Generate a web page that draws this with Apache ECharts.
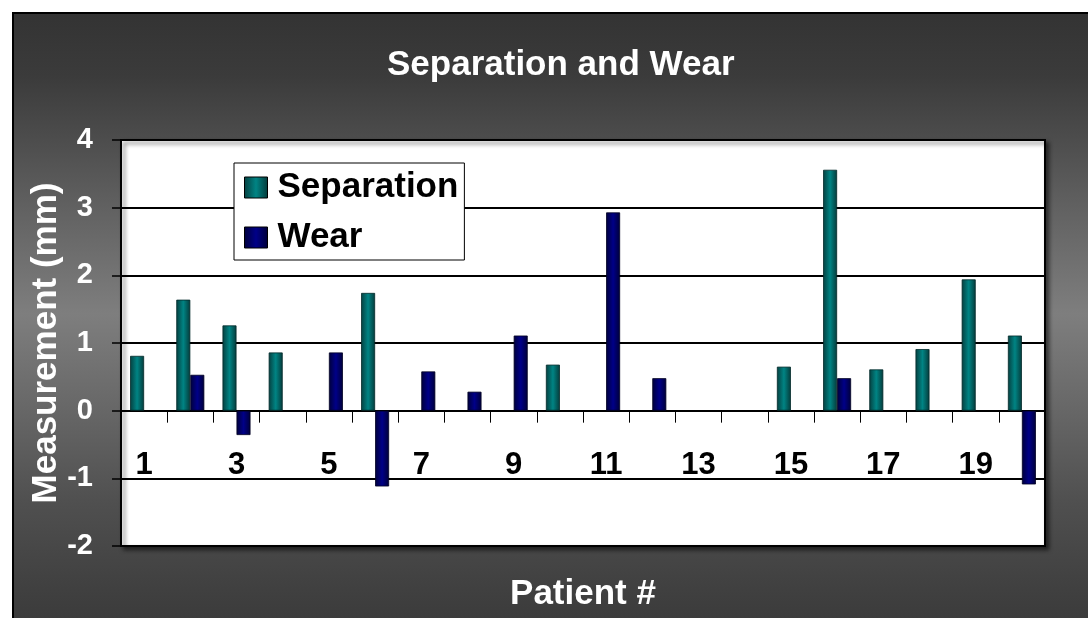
<!DOCTYPE html>
<html>
<head>
<meta charset="utf-8">
<script src="https://cdn.jsdelivr.net/npm/echarts@6/dist/echarts.min.js"></script>
<style>
html,body{margin:0;padding:0;background:#fff;}
#chart{width:1088px;height:618px;}
</style>
</head>
<body>
<div id="chart"></div>
<script>
const categories = ['1','2','3','4','5','6','7','8','9','10','11','12','13','14','15','16','17','18','19','20'];
const separation = [0.81,1.64,1.26,0.86,null,1.74,null,null,null,0.68,null,null,null,null,0.65,3.56,0.61,0.91,1.94,1.11];
const wear = [null,0.53,-0.36,null,0.86,-1.12,0.58,0.28,1.11,null,2.93,0.48,null,null,null,0.48,null,null,null,-1.09];
const yTicks = { min: -2, max: 4, interval: 1 };

const FONT = '"Liberation Sans", Arial, sans-serif';
const chart = echarts.init(document.getElementById('chart'));

const sepFill = new echarts.graphic.LinearGradient(0, 0, 1, 0, [
  { offset: 0, color: '#053f3f' },
  { offset: 0.5, color: '#008484' },
  { offset: 1, color: '#053a3a' }
]);
const wearFill = new echarts.graphic.LinearGradient(0, 0, 1, 0, [
  { offset: 0, color: '#00003a' },
  { offset: 0.5, color: '#000088' },
  { offset: 1, color: '#000038' }
]);

chart.setOption({
  backgroundColor: '#ffffff',
  animation: false,
  graphic: [{
    type: 'rect',
    z: -10,
    silent: true,
    shape: { x: 13, y: 13, width: 1100, height: 640 },
    style: {
      fill: new echarts.graphic.LinearGradient(0, 0, 0, 1, [
        { offset: 0, color: '#333333' },
        { offset: 0.1, color: '#3b3b3b' },
        { offset: 0.2, color: '#4d4d4d' },
        { offset: 0.31, color: '#626262' },
        { offset: 0.47, color: '#7e7e7e' },
        { offset: 0.6, color: '#6a6a6a' },
        { offset: 0.76, color: '#505050' },
        { offset: 0.88, color: '#424242' },
        { offset: 1, color: '#363636' }
      ]),
      stroke: '#000000',
      lineWidth: 2
    }
  }],
  title: {
    text: 'Separation and Wear',
    left: 382,
    top: 43,
    textStyle: { color: '#ffffff', fontSize: 35, fontWeight: 'bold', fontFamily: FONT }
  },
  legend: {
    orient: 'vertical',
    left: 234,
    top: 163,
    backgroundColor: '#ffffff',
    borderColor: '#000000',
    borderWidth: 1,
    padding: [7, 6, 5, 10],
    itemWidth: 23,
    itemHeight: 21,
    itemGap: 15,
    icon: 'rect',
    itemStyle: { borderColor: '#000000', borderWidth: 1 },
    textStyle: { color: '#000000', fontSize: 35, fontWeight: 'bold', fontFamily: FONT, padding: [0, 0, 0, 5] },
    data: ['Separation', 'Wear']
  },
  grid: {
    left: 121,
    top: 140,
    right: 43,
    bottom: 72,
    outerBoundsMode: 'none',
    containLabel: false,
    show: true,
    backgroundColor: '#ffffff',
    borderColor: '#000000',
    borderWidth: 2,
    shadowColor: 'rgba(0,0,0,0.55)',
    shadowBlur: 4,
    shadowOffsetX: 3,
    shadowOffsetY: 3
  },
  xAxis: {
    type: 'category',
    data: categories,
    name: 'Patient #',
    nameLocation: 'middle',
    nameGap: 31,
    nameMoveOverlap: false,
    nameTextStyle: { color: '#ffffff', fontSize: 35, fontWeight: 'bold', fontFamily: FONT },
    axisLine: { onZero: true, lineStyle: { color: '#000000', width: 1.5 } },
    axisTick: { show: true, interval: 0, length: 12, lineStyle: { color: '#000000', width: 1 } },
    axisLabel: { interval: 1, margin: -96, color: '#000000', fontSize: 31, fontWeight: 'bold', fontFamily: FONT },
    splitLine: { show: false }
  },
  yAxis: {
    type: 'value',
    min: yTicks.min,
    max: yTicks.max,
    interval: yTicks.interval,
    name: 'Measurement (mm)',
    nameLocation: 'middle',
    nameGap: 57,
    nameMoveOverlap: false,
    nameTextStyle: { color: '#ffffff', fontSize: 35, fontWeight: 'bold', fontFamily: FONT },
    axisLine: { show: true, lineStyle: { color: '#000000', width: 2 } },
    axisTick: { show: true, length: 9, lineStyle: { color: '#000000', width: 1.5 } },
    axisLabel: { margin: 28, color: '#ffffff', fontSize: 29, fontWeight: 'bold', fontFamily: FONT },
    splitLine: { show: true, lineStyle: { color: '#000000', width: 2 } }
  },
  series: [
    {
      name: 'Separation',
      type: 'bar',
      data: separation,
      barWidth: 14,
      barGap: '0%',
      itemStyle: { color: sepFill, borderColor: '#022a2a', borderWidth: 0.8 }
    },
    {
      name: 'Wear',
      type: 'bar',
      data: wear,
      barWidth: 14,
      barGap: '0%',
      itemStyle: { color: wearFill, borderColor: '#000022', borderWidth: 0.8 }
    }
  ]
});
</script>
</body>
</html>
